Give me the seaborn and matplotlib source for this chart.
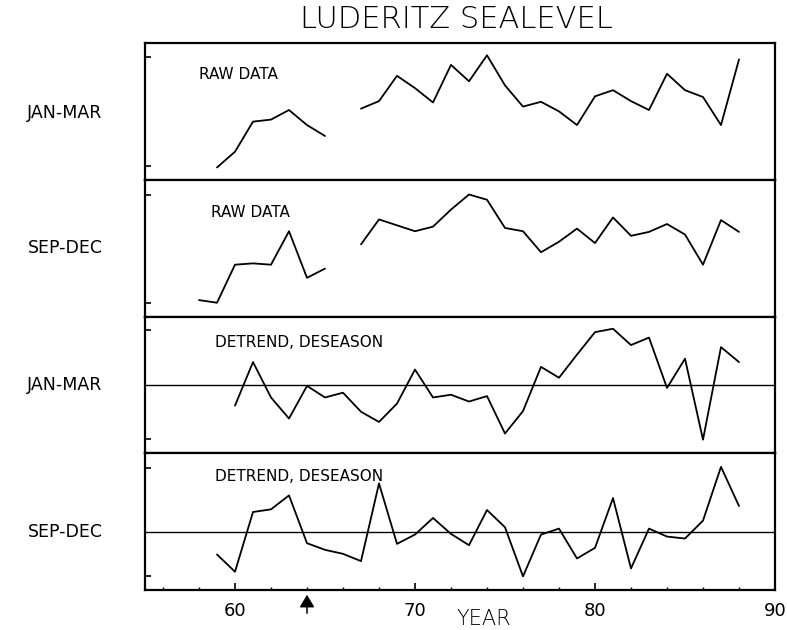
import numpy as np
import pandas as pd
import matplotlib
matplotlib.use("Agg")
import matplotlib.pyplot as plt
from matplotlib.ticker import FixedLocator
import seaborn as sns

# ---- Luderitz sea level series (cm, arbitrary datum) ----
raw_jan_mar_years = [59, 60, 61, 62, 63, 64, 65,
                     67, 68, 69, 70, 71, 72, 73, 74, 75, 76, 77, 78, 79, 80,
                     81, 82, 83, 84, 85, 86, 87, 88]
raw_jan_mar = [81.8, 84.1, 88.5, 88.8, 90.2, 88.0, 86.4,
               90.4, 91.5, 95.2, 93.4, 91.3, 96.8, 94.4, 98.2, 93.8, 90.7,
               91.4, 90.0, 88.0, 92.2, 93.1, 91.5, 90.2, 95.5, 93.1, 92.1,
               88.0, 97.6]

raw_sep_dec_years = [58, 59, 60, 61, 62, 63, 64, 65,
                     67, 68, 69, 70, 71, 72, 73, 74, 75, 76, 77, 78, 79, 80,
                     81, 82, 83, 84, 85, 86, 87, 88]
raw_sep_dec = [82.5, 82.1, 87.9, 88.1, 87.9, 93.0, 85.9, 87.3,
               91.0, 94.8, 93.9, 93.0, 93.7, 96.3, 98.6, 97.8, 93.5, 93.0,
               89.8, 91.4, 93.4, 91.2, 95.1, 92.3, 92.9, 94.1, 92.5, 87.9,
               94.7, 92.9]

anom_jan_mar_years = list(range(60, 89))
anom_jan_mar = [-3.1, 3.3, -1.9, -5.0, -0.2, -1.9, -1.2, -4.0, -5.5, -2.8,
                2.2, -1.9, -1.5, -2.5, -1.7, -7.2, -3.9, 2.6, 1.0, 4.4,
                7.7, 8.2, 5.8, 6.9, -0.5, 3.8, -8.1, 5.5, 3.3]

anom_sep_dec_years = list(range(59, 89))
anom_sep_dec = [-3.4, -6.0, 3.0, 3.4, 5.5, -1.7, -2.7, -3.3, -4.4, 7.3,
                -1.8, -0.4, 2.1, -0.3, -2.0, 3.3, 0.7, -6.7, -0.4, 0.5,
                -4.0, -2.4, 5.1, -5.5, 0.5, -0.7, -1.0, 1.7, 9.8, 3.9]

season_labels = ["JAN-MAR", "SEP-DEC", "JAN-MAR", "SEP-DEC"]
panel_notes = ["RAW DATA", "RAW DATA", "DETREND, DESEASON", "DETREND, DESEASON"]
title_text = "LUDERITZ SEALEVEL"
x_label = "YEAR"
year_ticks = [60, 70, 80, 90]
event_year = 64


def to_frame(years, values):
    """Split a series into continuous runs so gaps are not bridged."""
    years = np.asarray(years)
    seg = np.concatenate([[0], np.cumsum(np.diff(years) > 1)])
    return pd.DataFrame({"year": years, "level": values, "segment": seg})


panels = [
    dict(df=to_frame(raw_jan_mar_years, raw_jan_mar), ylim=(80.0, 100.0),
         yticks=[82, 98], zero=False, note_xy=(0.086, 0.77), lab_y=0.485),
    dict(df=to_frame(raw_sep_dec_years, raw_sep_dec), ylim=(80.0, 100.85),
         yticks=[82.1, 98.5], zero=False, note_xy=(0.105, 0.76), lab_y=0.50),
    dict(df=to_frame(anom_jan_mar_years, anom_jan_mar), ylim=(-10.1, 10.0),
         yticks=[-8, 8], zero=True, note_xy=(0.111, 0.81), lab_y=None),
    dict(df=to_frame(anom_sep_dec_years, anom_sep_dec), ylim=(-8.75, 11.85),
         yticks=[-6.7, 9.7], zero=True, note_xy=(0.111, 0.83), lab_y=None),
]

sns.set_style("white")
plt.rcParams["font.family"] = ["DejaVu Sans"]
plt.rcParams["text.color"] = "black"
plt.rcParams["xtick.color"] = "black"
plt.rcParams["ytick.color"] = "black"

fig = plt.figure(figsize=(7.87, 6.30), dpi=100)
gs = fig.add_gridspec(4, 1, left=145 / 787, right=775 / 787,
                      top=1 - 43 / 630, bottom=1 - 590 / 630, hspace=0)

axes = []
for i, p in enumerate(panels):
    ax = fig.add_subplot(gs[i, 0], sharex=axes[0] if axes else None)
    axes.append(ax)
    sns.lineplot(data=p["df"], x="year", y="level", units="segment",
                 estimator=None, color="black", linewidth=1.3, ax=ax,
                 legend=False)
    if p["zero"]:
        ax.axhline(0, color="black", linewidth=1.0)
    ax.set_ylim(*p["ylim"])
    ax.set_xlim(55, 90)
    ax.set_xlabel("")
    ax.set_ylabel("")
    ax.yaxis.set_major_locator(FixedLocator(p["yticks"]))
    ax.tick_params(axis="y", direction="in", length=4, width=1.2,
                   left=True, labelleft=False)
    for s in ax.spines.values():
        s.set_linewidth(1.6)
        s.set_color("black")
    ax.text(p["note_xy"][0], p["note_xy"][1], panel_notes[i],
            transform=ax.transAxes, ha="left", va="center", fontsize=11,
            color="black")
    if p["lab_y"] is None:
        trans = matplotlib.transforms.blended_transform_factory(ax.transAxes, ax.transData)
        ax.text(-0.127, 0, season_labels[i], transform=trans,
                ha="center", va="center", fontsize=12.5, color="black")
    else:
        ax.text(-0.127, p["lab_y"], season_labels[i], transform=ax.transAxes,
                ha="center", va="center", fontsize=12.5, color="black")
    if i < 3:
        ax.tick_params(axis="x", bottom=False, labelbottom=False)

bottom = axes[-1]
bottom.set_xticks(year_ticks)
bottom.set_xticklabels([str(t) for t in year_ticks])
bottom.xaxis.set_minor_locator(FixedLocator([y for y in range(56, 90, 2) if y not in year_ticks]))
bottom.tick_params(axis="x", which="major", direction="in", length=5, width=1.2,
                   bottom=True, labelbottom=True, labelsize=13, pad=9,
                   labelcolor="black")
bottom.tick_params(axis="x", which="minor", direction="in", length=2.5, width=1.0,
                   bottom=True)

# marker under the time axis
bottom.annotate("", xy=(event_year, -0.035), xycoords=("data", "axes fraction"),
                xytext=(event_year, -0.17), textcoords=("data", "axes fraction"),
                arrowprops=dict(arrowstyle="-|>,head_length=0.75,head_width=0.45",
                                color="black", lw=1.1, shrinkA=0, shrinkB=0),
                annotation_clip=False)

fig.text(484 / 787, 1 - 619 / 630, x_label, ha="center", va="center",
         fontsize=15, fontweight="light", color="black")
fig.text(456 / 787, 1 - 19 / 630, title_text, ha="center", va="center",
         fontsize=22, fontweight="light", color="black")

fig.savefig("out.png", dpi=100, facecolor="white")
